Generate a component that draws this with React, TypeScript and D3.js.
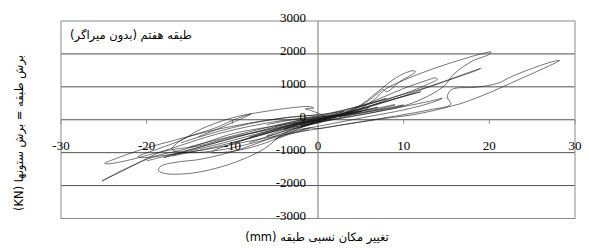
import React from 'react';
import * as d3 from 'd3';

type Pt = [number, number];

// tick labels
const xTicks = [-30, -20, -10, 0, 10, 20, 30];
const yTicks = [-3000, -2000, -1000, 0, 1000, 2000, 3000];

// hysteresis cycles: [drift mm, shear kN]
const cycleA: Pt[] = [[-3, -300], [0, -50], [2, 120], [4.5, 290], [6.5, 600], [8, 950], [10, 1200], [11.5, 1360], [14, 1600], [17, 1850], [19.5, 2030], [20.2, 2060], [20, 1990], [18, 1780], [16, 1420], [14.6, 1000], [12.3, 650], [10, 420], [7, 250], [4, 100], [1, -30], [-2, -200]];
const cycleB: Pt[] = [[-4, -420], [-1, -250], [0, -270], [3, -150], [7.5, 30], [11, 150], [13.5, 280], [15.8, 430], [17, 520], [20, 820], [23, 1170], [26, 1520], [28.2, 1800], [27.6, 1780], [25, 1560], [22.5, 1300], [21, 1110], [18.5, 990], [16, 955], [15.4, 880], [15.1, 680], [15.5, 470], [13, 300], [9, 110], [5, -60], [1, -230], [-3, -420], [-5, -600]];
const cycleC: Pt[] = [[-1, -100], [1, 50], [3, 200], [5, 450], [6.5, 750], [7.6, 980], [8.4, 1150], [9.9, 1390], [11.1, 1490], [11.4, 1460], [10.9, 1360], [9.5, 1150], [8.4, 900], [8, 850], [7.6, 920], [7.3, 870], [6, 600], [4, 280], [1, 20], [-2, -230]];
const cycleD: Pt[] = [[-2, -150], [1, 60], [4, 300], [7, 620], [10, 950], [12.5, 1180], [13.8, 1270], [13.9, 1220], [13, 1100], [11, 880], [9, 700], [7, 500], [4, 250], [1, 40], [-2, -200]];
const cycleE: Pt[] = [[-1, -80], [3, 250], [7, 550], [11, 850], [14, 1100], [17, 1380], [19, 1560], [18.5, 1500], [16, 1270], [13, 1000], [10, 720], [7, 470], [3, 180], [0, -50]];
const cycleJ: Pt[] = [[3, 150], [0, 0], [-2.1, -70], [-6, -230], [-9.9, -420], [-13, -680], [-15.6, -900], [-18.9, -1100], [-22.4, -1480], [-25.2, -1860], [-25, -1830], [-22, -1450], [-18.9, -1040], [-15.8, -760], [-12, -450], [-8, -200], [-4, -20], [0, 80], [2, 130]];
const cycleF: Pt[] = [[2, 100], [0, 0], [-3, -150], [-6, -320], [-10, -520], [-14, -800], [-16.9, -900], [-19.2, -1030], [-22.3, -1240], [-24.6, -1340], [-24.9, -1320], [-24.2, -1240], [-21.7, -1000], [-19.8, -840], [-17, -640], [-14.7, -480], [-11, -250], [-7, -60], [-3, 80], [0, 150]];
const cycleG: Pt[] = [[1, 0], [-2, -200], [-4, -420], [-6.2, -870], [-9.1, -1235], [-12, -1480], [-15, -1631], [-17.9, -1631], [-18.6, -1540], [-18.4, -1420], [-16.7, -1296], [-13.8, -1204], [-10.3, -991], [-6.8, -686], [-4, -400], [-1, -150], [2, 50]];
const cycleH: Pt[] = [[2, 80], [0, -30], [-4, -480], [-7, -780], [-10, -960], [-12.4, -990], [-12.2, -940], [-10, -730], [-7, -470], [-4, -220], [-1, -20], [1, 80]];
const cycleK: Pt[] = [[-1, -300], [-5, -500], [-9, -700], [-13, -900], [-17, -1050], [-20.5, -1150], [-21, -1120], [-18.5, -870], [-15.8, -600], [-13.8, -300], [-10, 60], [-6, 260], [-2.5, 380], [-1, 400], [-0.5, 360], [-1.5, 330], [-0.8, 280], [0, 200], [1, 100]];
const cycleL: Pt[] = [[-1, -250], [-6, -600], [-11, -900], [-15, -1000], [-17, -900], [-16, -625], [-12, -250], [-9.5, 30], [-7.8, 180], [-8.2, 120], [-11, -200], [-14, -520]];
const cycleM: Pt[] = [[-5, -450], [-3, -250], [0, -50], [3, 150], [5, 300], [6, 380], [5, 250], [2, 80], [-1, -120], [-4, -300], [-6, -500], [-5, -450]];
const cycleN: Pt[] = [[-8, -700], [-4, -350], [0, -100], [4, 150], [8, 350], [10, 450], [9, 380], [5, 200], [1, 50], [-3, -150], [-7, -450], [-9, -650]];
const cycleO: Pt[] = [[-6, -150], [-3, 0], [0, 120], [3, 300], [6, 500], [8, 650], [7, 560], [4, 350], [1, 150], [-2, 0], [-5, -200]];
const cycleP: Pt[] = [[-2, -300], [2, -100], [6, 100], [10, 300], [13, 500], [14.5, 650], [13, 560], [10, 400], [6, 200], [2, 20], [-2, -150]];
const cycleQ: Pt[] = [[-10, -700], [-6, -420], [-3, -150], [0, 30], [3, 200], [6, 420], [9, 640], [12, 850], [11, 780], [8, 560], [5, 330], [2, 120], [-1, -60], [-4, -280], [-8, -520]];
const cycleR: Pt[] = [[-18, -1150], [-14, -850], [-10, -560], [-6, -300], [-2, -80], [2, 120], [6, 300], [9, 460], [8, 380], [5, 220], [1, 40], [-3, -180], [-7, -420], [-11, -700], [-15, -950], [-18, -1150]];
const cycleS: Pt[] = [[-20, -1250], [-16, -980], [-12, -700], [-8, -420], [-4, -150], [0, 60], [4, 220], [7, 380], [5, 260], [1, 60], [-3, -200], [-8, -560], [-13, -880], [-17, -1100]];
const cycleT: Pt[] = [[-16, -700], [-12, -380], [-8, -120], [-4, 60], [0, 150], [3, 250], [1, 120], [-3, -60], [-7, -300], [-11, -560], [-15, -820]];
const cycleU: Pt[] = [[-4, -300], [-2, -120], [0, 0], [2, 100], [4, 200], [3, 130], [1, 40], [-1, -60], [-3, -200], [-4, -300]];
const cycleV: Pt[] = [[-3, -120], [0, 60], [3, 180], [5, 260], [4, 180], [1, 40], [-2, -120], [-4, -260]];

const cycles = [cycleA, cycleB, cycleC, cycleD, cycleE, cycleJ, cycleF, cycleG, cycleH, cycleK, cycleL, cycleM, cycleN, cycleO, cycleP, cycleQ, cycleR, cycleS, cycleT, cycleU, cycleV];

const title = 'طبقه هفتم (بدون میراگر)';
const xTitle = 'تغییر مکان نسبی طبقه (mm)';
const yTitle = 'برش طبقه = برش ستونها (KN)';

export default function App() {
  const width = 589;
  const height = 248;
  const plot = { left: 61, right: 575, top: 21, bottom: 218.5 };

  const x = d3.scaleLinear().domain([-30, 30]).range([plot.left, plot.right]);
  const y = d3.scaleLinear().domain([-3000, 3000]).range([plot.bottom, plot.top]);

  const line = d3.line<Pt>()
    .x(d => x(d[0]))
    .y(d => y(d[1]))
    .curve(d3.curveCatmullRom.alpha(0.5));

  const numFont = "'Times New Roman', 'Liberation Serif', serif";
  const faFont = "'DejaVu Sans', sans-serif";

  return (
    <svg width={width} height={height} style={{ position: 'absolute', left: 0, top: 0, background: '#fff' }}>
      {/* horizontal gridlines */}
      {yTicks.filter(v => v !== 3000 && v !== -3000).map(v => (
        <line key={v} x1={plot.left} x2={plot.right} y1={y(v)} y2={y(v)} stroke="#505050" strokeWidth={1} />
      ))}
      {/* plot border */}
      <rect x={plot.left} y={plot.top} width={plot.right - plot.left} height={plot.bottom - plot.top}
        fill="none" stroke="#8a8a8a" strokeWidth={1} />
      {/* vertical axis at x = 0 */}
      <line x1={x(0)} x2={x(0)} y1={plot.top} y2={plot.bottom} stroke="#8a8a8a" strokeWidth={1.2} />
      {/* x ticks */}
      {xTicks.filter(v => v !== 0).map(v => (
        <line key={v} x1={x(v)} x2={x(v)} y1={y(0)} y2={y(0) + 4} stroke="#8a8a8a" />
      ))}

      {/* cycles */}
      <g fill="none" stroke="#1a1a1a" strokeWidth={0.6}>
        {cycles.map((c, i) => <path key={i} d={line(c) ?? ''} />)}
      </g>

      {/* y tick labels */}
      {yTicks.map(v => (
        <text key={v} x={306} y={y(v) + 1} textAnchor="end" fontFamily={numFont} fontSize={13}
          fill="#000">{v}</text>
      ))}
      {/* x tick labels */}
      {xTicks.map(v => (
        <text key={v} x={x(v)} y={y(0) + 30} textAnchor="middle" fontFamily={numFont} fontSize={13}
          fill="#000">{v}</text>
      ))}

      <text x={131} y={39} textAnchor="middle" direction="rtl" fontFamily={faFont} fontSize={11.5} fill="#000">{title}</text>
      <text x={317} y={241} textAnchor="middle" direction="rtl" fontFamily={faFont} fontSize={11.5} fill="#000">{xTitle}</text>
      <text transform={`translate(23,133) rotate(-90)`} textAnchor="middle" direction="rtl"
        fontFamily={faFont} fontSize={11.5} fill="#000">{yTitle}</text>
    </svg>
  );
}
